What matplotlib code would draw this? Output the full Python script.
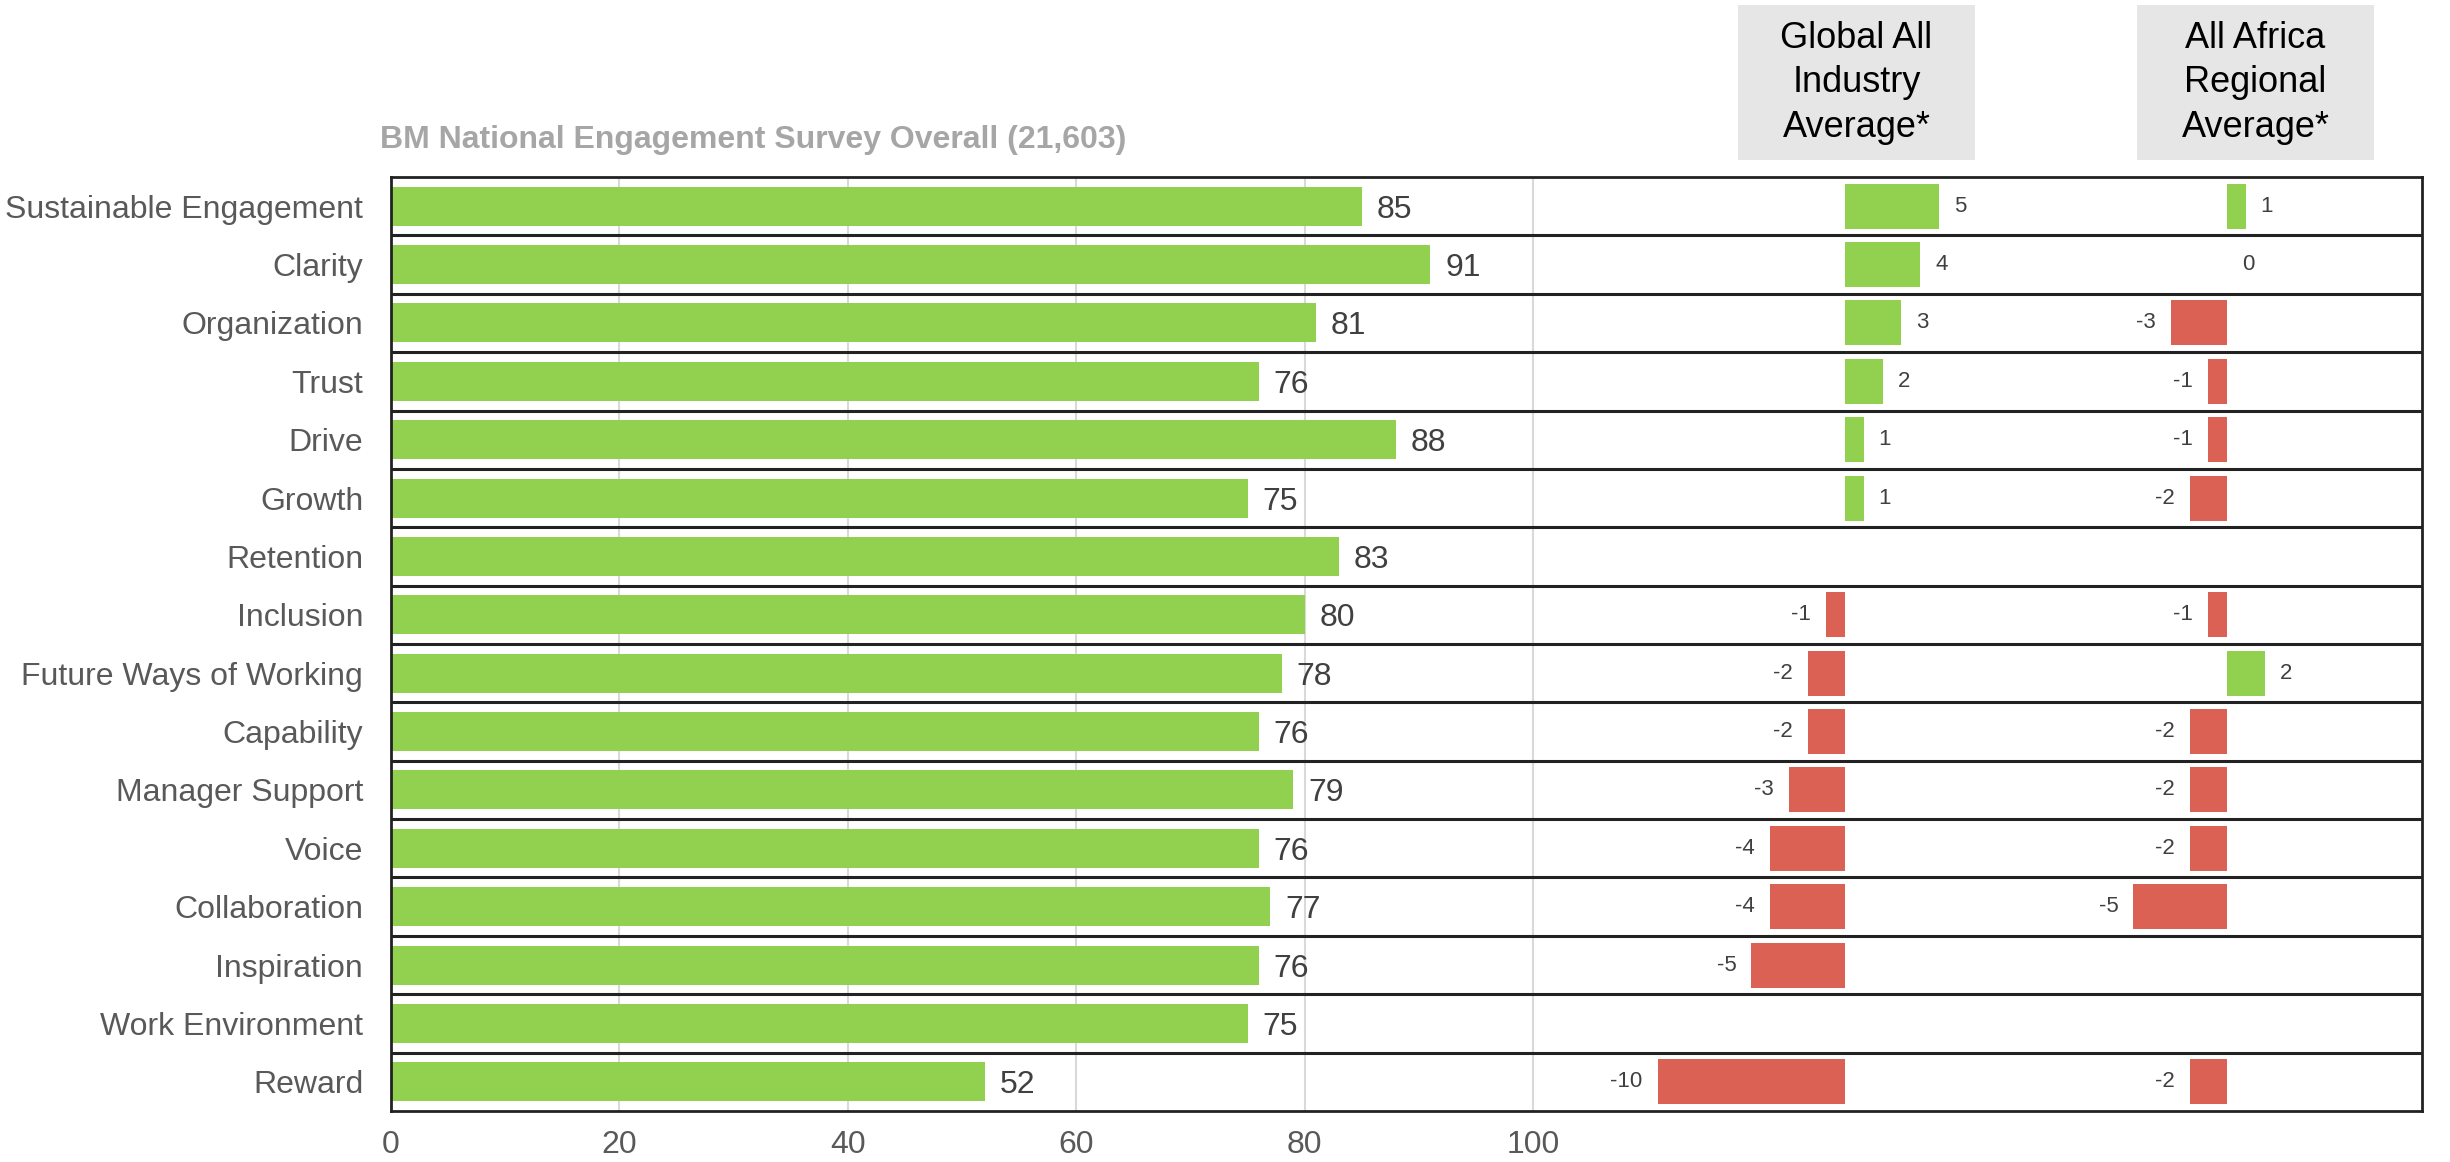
import numpy as np
import matplotlib
matplotlib.use('Agg')
import matplotlib.pyplot as plt
from matplotlib.patches import Rectangle

plt.rcParams['font.family'] = ['Liberation Sans', 'DejaVu Sans']

categories = ["Sustainable Engagement", "Clarity", "Organization", "Trust", "Drive",
              "Growth", "Retention", "Inclusion", "Future Ways of Working", "Capability",
              "Manager Support", "Voice", "Collaboration", "Inspiration",
              "Work Environment", "Reward"]
scores = [85, 91, 81, 76, 88, 75, 83, 80, 78, 76, 79, 76, 77, 76, 75, 52]
global_diff = [5, 4, 3, 2, 1, 1, np.nan, -1, -2, -2, -3, -4, -4, -5, np.nan, -10]
africa_diff = [1, 0, -3, -1, -1, -2, np.nan, -1, 2, -2, -2, -2, -5, np.nan, np.nan, -2]
ticks = [0, 20, 40, 60, 80, 100]

title = "BM National Engagement Survey Overall (21,603)"
header_global = "Global All\nIndustry\nAverage*"
header_africa = "All Africa\nRegional\nAverage*"

GREEN = "#92d050"
RED = "#dc6155"
TXT = "#404040"

W, H = 2450, 1162
fig = plt.figure(figsize=(W / 100, H / 100), dpi=100)
left, right, top, bottom = 391, 2422, 177, 1111
ax = fig.add_axes([left / W, 1 - bottom / H, (right - left) / W, (bottom - top) / H])

n = len(categories)
y = np.arange(n)
px_per_unit = 11.42
xmax = (right - left) / px_per_unit

ax.barh(y, scores, height=0.67, color=GREEN, zorder=3)
for yi, v in zip(y, scores):
    ax.text(v + 1.3, yi, str(v), va='center_baseline', ha='left', fontsize=23,
            color=TXT, zorder=4)

ax.set_xlim(0, xmax)
ax.set_ylim(n - 0.5, -0.5)
ax.set_yticks(y)
ax.set_yticklabels(categories, fontsize=23, color="#595959")
ax.set_xticks(ticks)
ax.set_xticklabels([str(t) for t in ticks], fontsize=23, color="#595959")
ax.tick_params(length=0)
ax.tick_params(axis='y', pad=20)
ax.tick_params(axis='x', pad=14)
for t in ticks[1:]:
    ax.axvline(t, color="#d9d9d9", lw=1.5, zorder=1)
for b in np.arange(n - 1) + 0.5:
    ax.axhline(b, color="#222222", lw=2.2, zorder=5)
for s in ax.spines.values():
    s.set_color("#222222")
    s.set_linewidth(2)
    s.set_zorder(6)

# delta columns live on their own x scales, sharing the row axis
delta_px = 18.75
def delta_axis(zero_px, diffs):
    dax = ax.twiny()
    lo = -(zero_px - left) / delta_px
    dax.set_xlim(lo, lo + (right - left) / delta_px)
    dax.set_xticks([])
    for s in dax.spines.values():
        s.set_visible(False)
    vals = np.array(diffs, dtype=float)
    colors = [GREEN if v >= 0 else RED for v in np.nan_to_num(vals)]
    mask = ~np.isnan(vals)
    dax.barh(y[mask], vals[mask], height=0.77, color=np.array(colors)[mask], zorder=3)
    for yi, v in zip(y[mask], vals[mask]):
        if v >= 0:
            dax.text(v + 0.8, yi, str(int(v)), va='center', ha='left', fontsize=16, color=TXT)
        else:
            dax.text(v - 0.8, yi, str(int(v)), va='center', ha='right', fontsize=16, color=TXT)
    dax.set_ylim(n - 0.5, -0.5)
    return dax

delta_axis(1845, global_diff)
delta_axis(2227, africa_diff)

fig.text(380 / W, 1 - 140 / H, title, ha='left', va='center', fontsize=23,
         fontweight='bold', color="#a6a6a6")

for (x0, x1), label in [((1738, 1975), header_global), ((2137, 2374), header_africa)]:
    fig.add_artist(Rectangle((x0 / W, 1 - 160 / H), (x1 - x0) / W, 155 / H,
                             transform=fig.transFigure, facecolor="#e6e6e6", edgecolor='none'))
    fig.text((x0 + x1) / 2 / W, 1 - 83 / H, label, ha='center', va='center',
             fontsize=26, linespacing=1.34, color="black")

fig.savefig("out.png", dpi=100)
